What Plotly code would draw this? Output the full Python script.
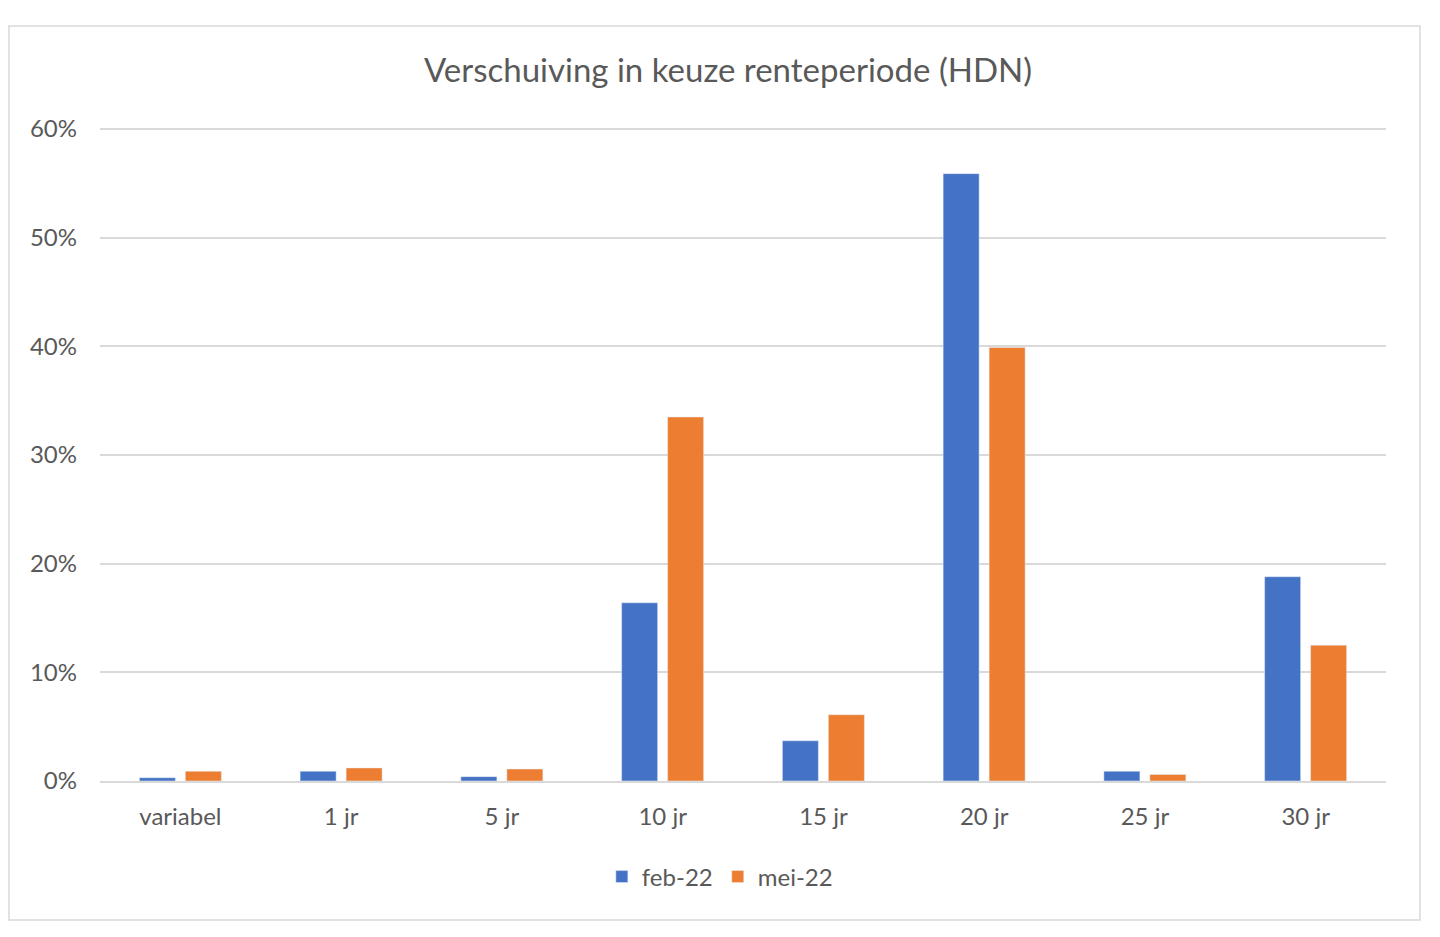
import plotly.graph_objects as go

categories = ["variabel", "1 jr", "5 jr", "10 jr", "15 jr", "20 jr", "25 jr", "30 jr"]
feb_22 = [0.3, 0.9, 0.4, 16.4, 3.7, 55.9, 0.9, 18.8]
mei_22 = [0.9, 1.2, 1.1, 33.5, 6.1, 39.9, 0.6, 12.5]
y_ticks = [0, 10, 20, 30, 40, 50, 60]
y_tick_labels = [f"{v}%" for v in y_ticks]

font_family = "Lato, 'Open Sans', sans-serif"
text_color = "#595959"

fig = go.Figure()
fig.add_trace(go.Bar(x=categories, y=feb_22, name="feb-22", marker_color="#4472C4"))
fig.add_trace(go.Bar(x=categories, y=mei_22, name="mei-22", marker_color="#ED7D31"))

fig.update_layout(
    width=1440, height=937,
    margin=dict(l=92, r=62, t=120, b=164),
    paper_bgcolor="white", plot_bgcolor="white",
    font=dict(family=font_family, color=text_color, size=24),
    title=dict(text="Verschuiving in keuze renteperiode (HDN)", x=0.5, xanchor="center",
               y=1 - 62 / 937, yanchor="middle", font=dict(size=33, color=text_color)),
    barmode="group", bargap=0.428, bargroupgap=0.217,
    showlegend=True,
    legend=dict(orientation="h", x=0.482, xanchor="center", y=-0.147, yanchor="middle",
                font=dict(size=24, color=text_color), itemwidth=30, traceorder="normal"),
    hovermode=False,
)
fig.update_yaxes(range=[0, 60.1], tickvals=y_ticks, ticktext=y_tick_labels, showgrid=True,
                 gridcolor="#D9D9D9", gridwidth=1.5, zeroline=False, showline=False,
                 ticklabelstandoff=22)
fig.update_xaxes(showline=True, linecolor="#D9D9D9", linewidth=2, showgrid=False,
                 ticks="", ticklabelstandoff=13)

# outer chart border
fig.add_shape(type="rect", xref="paper", yref="paper",
              x0=-0.0708, x1=1.0264, y0=-0.2129, y1=1.1562,
              line=dict(color="#D9D9D9", width=1.5), layer="below")

fig.write_html("out.html")
